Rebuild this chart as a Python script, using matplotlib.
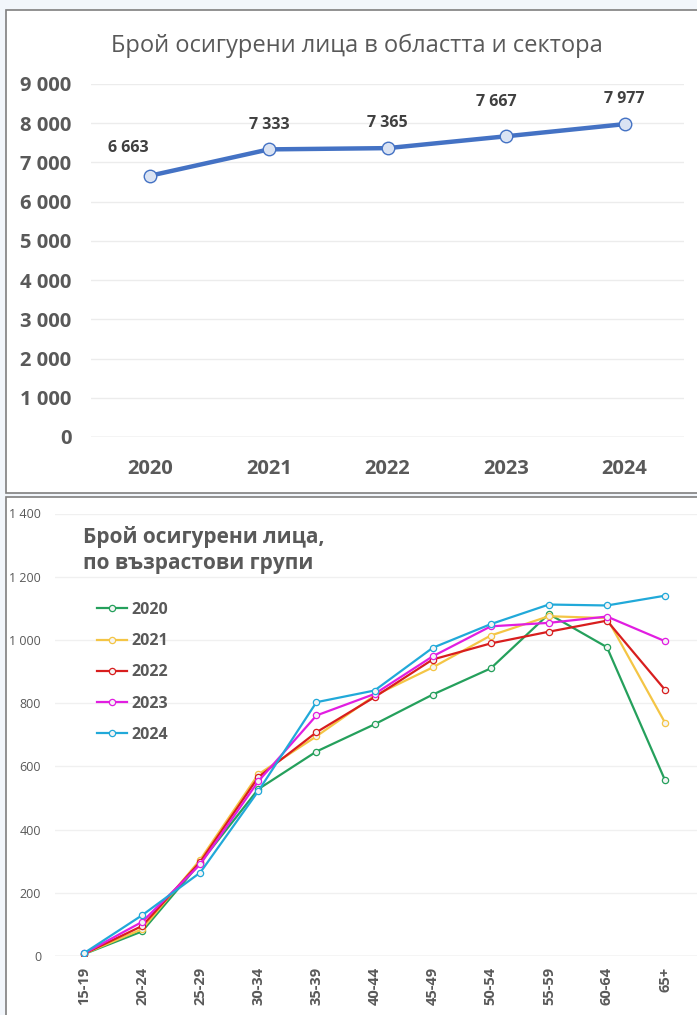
import matplotlib
matplotlib.use("Agg")
import matplotlib.pyplot as plt
from matplotlib.patches import Rectangle

plt.rcParams['font.family'] = ['Open Sans', 'DejaVu Sans']

# ---- data ----
years = ["2020", "2021", "2022", "2023", "2024"]
insured_total = [6663, 7333, 7365, 7667, 7977]

age_groups = ["15-19", "20-24", "25-29", "30-34", "35-39", "40-44",
              "45-49", "50-54", "55-59", "60-64", "65+"]
ages_2020 = [6, 78, 295, 528, 647, 733, 827, 910, 1082, 977, 556]
ages_2021 = [7, 85, 305, 575, 695, 824, 913, 1014, 1075, 1069, 738]
ages_2022 = [7, 95, 298, 566, 708, 819, 938, 989, 1026, 1061, 842]
ages_2023 = [8, 108, 290, 553, 761, 829, 948, 1043, 1054, 1074, 996]
ages_2024 = [9, 129, 264, 522, 803, 840, 975, 1050, 1112, 1109, 1140]

top_ticks = [0, 1000, 2000, 3000, 4000, 5000, 6000, 7000, 8000, 9000]
bottom_ticks = [0, 200, 400, 600, 800, 1000, 1200, 1400]

W, H = 697, 1015
fig = plt.figure(figsize=(W / 100, H / 100), dpi=100)
fig.patch.set_facecolor("#f2f6fb")

def fbox(x0, y0, x1, y1):
    """Pixel box (top-left origin) -> figure fraction rect."""
    return [x0 / W, 1 - y1 / H, (x1 - x0) / W, (y1 - y0) / H]

# panel frames
for (x0, y0, x1, y1) in [(6, 10, 700, 493), (6, 497, 700, 1020)]:
    fig.patches.append(Rectangle((x0 / W, 1 - y1 / H), (x1 - x0) / W, (y1 - y0) / H,
                                 transform=fig.transFigure, facecolor="white",
                                 edgecolor="#7f7f7f", linewidth=1.2, zorder=-10))

def fmt(v):
    return f"{int(v):,}".replace(",", "\u00a0")

GRAY = "#595959"

# ---- top chart ----
ax1 = fig.add_axes(fbox(91, 84, 684, 437))
ax1.set_facecolor("none")
x1 = list(range(len(years)))
ax1.plot(x1, insured_total, color="#4472c4", linewidth=3.2, marker="o",
         markersize=9, markerfacecolor="#dae3f3", markeredgecolor="#4472c4",
         markeredgewidth=1.0, zorder=3, solid_capstyle="round")
ax1.set_xlim(-0.5, 4.5)
ax1.set_ylim(0, 9000)
ax1.set_yticks(top_ticks)
ax1.set_yticklabels([fmt(v) for v in top_ticks], fontsize=14.5, fontweight="bold", color=GRAY)
ax1.set_xticks(x1)
ax1.set_xticklabels(years, fontsize=14.5, fontweight="bold", color=GRAY)
ax1.tick_params(axis="both", length=0)
ax1.tick_params(axis="y", pad=14)
ax1.tick_params(axis="x", pad=16)
ax1.grid(axis="y", color="#ececec", linewidth=1)
ax1.set_axisbelow(True)
for s in ax1.spines.values():
    s.set_visible(False)
ax1.axhline(0, color="#d9d9d9", linewidth=1)
label_offsets = [(-16, 14), (0, 12), (0, 12), (-7, 19), (0, 12)]
for xi, v, off in zip(x1, insured_total, label_offsets):
    ax1.annotate(fmt(v), (xi, v), xytext=off, textcoords="offset points",
                 ha="center", va="bottom", fontsize=11.5, fontweight="bold", color="#404040")
fig.text(357 / W, 1 - 46 / H, "Брой осигурени лица в областта и сектора",
         ha="center", va="center", fontsize=17, color=GRAY)

# ---- bottom chart ----
ax2 = fig.add_axes(fbox(55, 513.5, 697, 956))
ax2.set_facecolor("none")
x2 = list(range(len(age_groups)))
series = [("2020", ages_2020, "#25a05c"), ("2021", ages_2021, "#f4c545"),
          ("2022", ages_2022, "#d81e1e"), ("2023", ages_2023, "#e11ee1"),
          ("2024", ages_2024, "#21a9d9")]
for name, vals, col in series:
    ax2.plot(x2, vals, color=col, linewidth=1.6, marker="o", markersize=4.5,
             markerfacecolor="#f4f4f4", markeredgecolor=col, markeredgewidth=0.9,
             label=name, zorder=3)
ax2.set_xlim(-0.5, 10.55)
ax2.set_ylim(0, 1400)
ax2.set_yticks(bottom_ticks)
ax2.set_yticklabels([fmt(v) for v in bottom_ticks], fontsize=9, color=GRAY)
ax2.set_xticks(x2)
ax2.set_xticklabels(age_groups, rotation=90, fontsize=10.5, fontweight="bold", color=GRAY)
ax2.tick_params(axis="both", length=0)
ax2.tick_params(axis="y", pad=10)
ax2.tick_params(axis="x", pad=8)
ax2.grid(axis="y", color="#f0f0f0", linewidth=1)
ax2.set_axisbelow(True)
for s in ax2.spines.values():
    s.set_visible(False)
ax2.axhline(0, color="#d9d9d9", linewidth=1)
fig.text(83 / W, 1 - 537 / H, "Брой осигурени лица,", ha="left", va="center",
         fontsize=15, fontweight="bold", color=GRAY)
fig.text(83 / W, 1 - 564 / H, "по възрастови групи", ha="left", va="center",
         fontsize=15, fontweight="bold", color=GRAY)
leg = ax2.legend(loc="upper left", bbox_to_anchor=(97 / W, 1 - 602 / H),
                 bbox_transform=fig.transFigure, frameon=False,
                 prop={"size": 11.5, "weight": "bold"}, labelspacing=0.95,
                 handlelength=1.9, handletextpad=0.25, borderpad=0, borderaxespad=0)
for t in leg.get_texts():
    t.set_color(GRAY)

fig.savefig("out.png", dpi=100, facecolor=fig.get_facecolor())
